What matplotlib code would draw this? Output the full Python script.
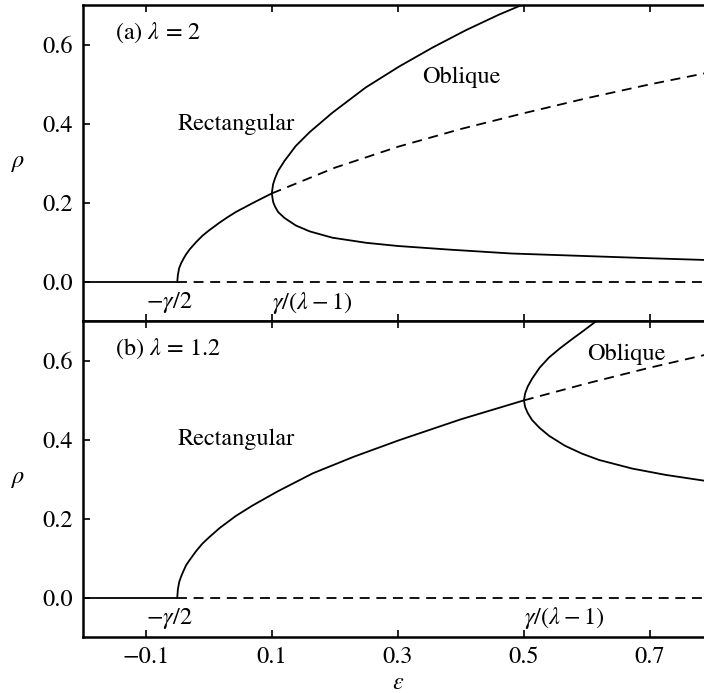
import matplotlib
matplotlib.use("Agg")
import matplotlib.pyplot as plt

plt.rcParams['font.family'] = 'STIXGeneral'
plt.rcParams['mathtext.fontset'] = 'stix'
plt.rcParams['font.size'] = 17.5

# ---- panel (a): lambda = 2 ----
# rectangular branch, stable part (solid)
rect_a_eps = [-0.05, -0.049, -0.047, -0.044, -0.04, -0.036, -0.03, -0.02, -0.01, 0.0,
              0.017, 0.03, 0.043, 0.056, 0.069, 0.085, 0.1]
rect_a_rho = [0.0, 0.018, 0.035, 0.047, 0.059, 0.070, 0.083, 0.101, 0.117, 0.130,
              0.150, 0.164, 0.177, 0.188, 0.199, 0.212, 0.224]
# rectangular branch, unstable part (dashed)
rect_a_eps_u = [0.1, 0.2, 0.3, 0.4, 0.5, 0.6, 0.7, 0.8]
rect_a_rho_u = [0.224, 0.289, 0.342, 0.387, 0.427, 0.465, 0.500, 0.532]
# oblique branch (upper end -> turning point -> lower end)
obl_a_eps = [0.50, 0.46, 0.408, 0.355, 0.302, 0.249, 0.196, 0.16, 0.138, 0.12, 0.11,
             0.105, 0.102, 0.1, 0.102, 0.105, 0.11, 0.12, 0.138, 0.16, 0.196, 0.25,
             0.30, 0.38, 0.48, 0.59, 0.70, 0.80]
obl_a_rho = [0.703, 0.676, 0.637, 0.593, 0.545, 0.492, 0.428, 0.379, 0.344, 0.306, 0.281,
             0.262, 0.247, 0.224, 0.203, 0.191, 0.177, 0.162, 0.143, 0.128, 0.112, 0.099,
             0.091, 0.082, 0.072, 0.066, 0.060, 0.055]

# ---- panel (b): lambda = 1.2 ----
rect_b_eps = [-0.05, -0.049, -0.047, -0.044, -0.04, -0.036, -0.03, -0.02, -0.01, 0.0,
              0.017, 0.043, 0.069, 0.109, 0.165, 0.23, 0.302, 0.4, 0.5]
rect_b_rho = [0.0, 0.021, 0.039, 0.053, 0.068, 0.082, 0.096, 0.118, 0.137, 0.152,
              0.176, 0.207, 0.233, 0.269, 0.315, 0.357, 0.399, 0.452, 0.5]
rect_b_eps_u = [0.5, 0.6, 0.7, 0.8]
rect_b_rho_u = [0.5, 0.543, 0.583, 0.620]
obl_b_eps = [0.614, 0.595, 0.577, 0.558, 0.54, 0.525, 0.513, 0.506, 0.502, 0.5,
             0.502, 0.506, 0.513, 0.525, 0.54, 0.565, 0.592, 0.619, 0.672, 0.725, 0.8]
obl_b_rho = [0.70, 0.677, 0.656, 0.633, 0.609, 0.583, 0.555, 0.535, 0.518, 0.5,
             0.483, 0.468, 0.450, 0.430, 0.410, 0.385, 0.365, 0.349, 0.327, 0.311, 0.293]

# trivial state
zero_eps_s = [-0.2, -0.05]
zero_eps_u = [-0.05, 0.8]
zero_rho = [0.0, 0.0]

xticks = [-0.1, 0.1, 0.3, 0.5, 0.7]
yticks = [0.0, 0.2, 0.4, 0.6]

lw = 1.3
dash = (0, (5.5, 3.7))

fig = plt.figure(figsize=(7.04, 6.93), dpi=100)
ax1 = fig.add_axes([0.1175, 0.5361, 0.8953, 0.4563])
ax2 = fig.add_axes([0.1175, 0.0808, 0.8953, 0.4553])

panels = [
    (ax1, rect_a_eps, rect_a_rho, rect_a_eps_u, rect_a_rho_u, obl_a_eps, obl_a_rho,
     r'(a) $\lambda$ = 2', (0.339, 0.518), 0.1),
    (ax2, rect_b_eps, rect_b_rho, rect_b_eps_u, rect_b_rho_u, obl_b_eps, obl_b_rho,
     r'(b) $\lambda$ = 1.2', (0.600, 0.618), 0.5),
]

for ax, re, rr, reu, rru, oe, orr, title, obl_pos, xc in panels:
    ax.plot(zero_eps_s, zero_rho, 'k-', lw=lw)
    ax.plot(zero_eps_u, zero_rho, 'k', lw=lw, linestyle=dash)
    ax.plot(re, rr, 'k-', lw=lw)
    ax.plot(reu, rru, 'k', lw=lw, linestyle=dash)
    ax.plot(oe, orr, 'k-', lw=lw)

    ax.text(-0.149, 0.63, title, ha='left', va='center')
    ax.text(-0.05, 0.40, 'Rectangular', ha='left', va='center')
    ax.text(obl_pos[0], obl_pos[1], 'Oblique', ha='left', va='center')
    ax.text(-0.1, -0.052, r'$-\gamma/2$', ha='left', va='center')
    ax.text(xc, -0.052, r'$\gamma/(\lambda-1)$', ha='left', va='center')

    ax.set_xlim(-0.2, 0.8)
    ax.set_ylim(-0.1, 0.7)
    ax.set_xticks(xticks)
    ax.set_yticks(yticks)
    ax.tick_params(direction='in', top=True, right=True, length=5, width=1.2, pad=7)
    for s in ax.spines.values():
        s.set_linewidth(1.8)
    ax.set_ylabel(r'$\rho$', rotation=0, ha='center', va='center')
    ax.yaxis.set_label_coords(-0.103, 0.5)

ax1.tick_params(labelbottom=False)
ax2.set_xlabel(r'$\varepsilon$', va='center')
ax2.xaxis.set_label_coords(0.5, -0.146)

fig.savefig('out.png', dpi=100)
